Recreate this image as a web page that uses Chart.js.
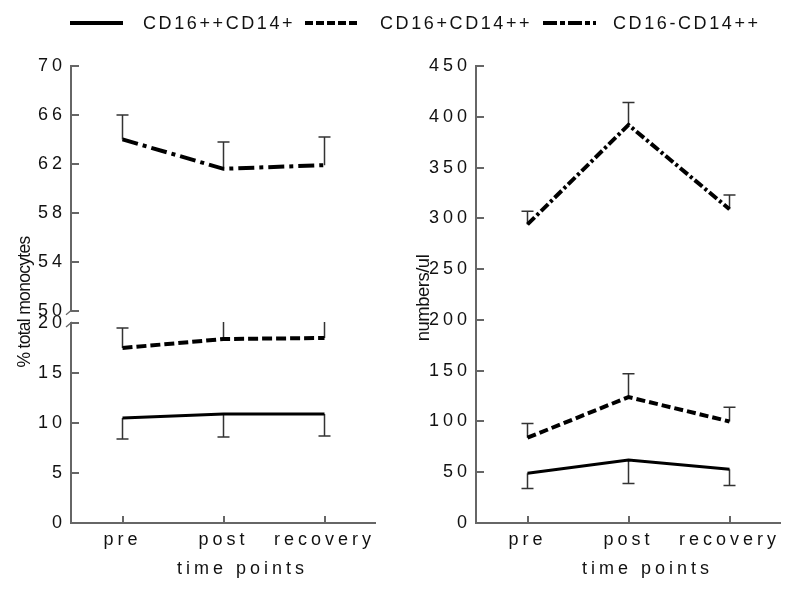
<!DOCTYPE html>
<html>
<head>
<meta charset="utf-8">
<script src="https://cdn.jsdelivr.net/npm/chart.js@4.4.1/dist/chart.umd.min.js"></script>
<style>
  body { margin: 0; background: #fff; width: 794px; height: 591px; overflow: hidden; position: relative;
         font-family: "Liberation Sans", Arial, sans-serif; }
  .panel { position: absolute; top: 0; width: 397px; height: 591px; }
  #left { left: 0; }
  #right { left: 397px; }
  #legend { position: absolute; left: 0; top: 0; width: 794px; height: 44px; }
  .item { position: absolute; top: 13px; font-size: 18px; line-height: 20px; letter-spacing: 2.6px; color: #111; white-space: nowrap; }
</style>
</head>
<body>
<div id="left" class="panel"><canvas id="leftChart"></canvas></div>
<div id="right" class="panel"><canvas id="rightChart"></canvas></div>
<div id="legend">
  <svg width="794" height="44" style="position:absolute;left:0;top:0">
    <line x1="70" y1="23" x2="123" y2="23" stroke="#000" stroke-width="4"/>
    <line x1="305" y1="23" x2="358" y2="23" stroke="#000" stroke-width="4" stroke-dasharray="8 3"/>
    <line x1="543" y1="23" x2="596" y2="23" stroke="#000" stroke-width="4" stroke-dasharray="14 3 5 3"/>
  </svg>
</div>
<script>
const timePoints = ['pre', 'post', 'recovery'];
const seriesNames = ['CD16++CD14+', 'CD16+CD14++', 'CD16-CD14++'];

// % of total monocytes (mean and SD)
const pctCD16pp = [10.5, 10.9, 10.9];
const pctCD16ppSD = [2.1, 2.3, 2.2];
const pctCD16p = [17.5, 18.4, 18.5];
const pctCD16pSD = [2.0, 2.4, 2.4];
const pctCD16n = [64.0, 61.6, 61.9];
const pctCD16nSD = [2.0, 2.2, 2.3];

// numbers/ul (mean and SD)
const numCD16pp = [49, 62, 53];
const numCD16ppSD = [15, 23, 16];
const numCD16p = [84, 124, 100];
const numCD16pSD = [14, 23, 14];
const numCD16n = [294, 392, 309];
const numCD16nSD = [13, 22, 14];

const pctTopTicks = [50, 54, 58, 62, 66, 70];
const pctLowTicks = [0, 5, 10, 15, 20];
const numTicks = [0, 50, 100, 150, 200, 250, 300, 350, 400, 450];

const axisColor = '#666';
const textColor = '#111';
const fontFamily = '"Liberation Sans", Arial, sans-serif';

Chart.defaults.font.family = fontFamily;
Chart.defaults.font.size = 18;
Chart.defaults.color = textColor;

// legend text
const legendX = [143, 380, 613];
seriesNames.forEach((name, i) => {
  const s = document.createElement('span');
  s.className = 'item';
  s.style.left = legendX[i] + 'px';
  s.textContent = name;
  document.getElementById('legend').appendChild(s);
});

function lineDataset(label, data, errors, dir, yAxisID, width, dash) {
  return {
    label: label, data: data, errors: errors, errorDir: dir, yAxisID: yAxisID,
    borderColor: '#000', borderWidth: width, borderDash: dash,
    pointRadius: 0, tension: 0, fill: false
  };
}

// error bars, drawn under the lines
const errorBars = {
  id: 'errorBars',
  beforeDatasetsDraw(chart) {
    const ctx = chart.ctx;
    chart.data.datasets.forEach((ds, i) => {
      const meta = chart.getDatasetMeta(i);
      const ys = chart.scales[meta.yAxisID];
      ctx.save();
      ctx.beginPath();
      ctx.rect(chart.chartArea.left, ys.top - 1, chart.chartArea.width, ys.bottom - ys.top + 2);
      ctx.clip();
      ctx.strokeStyle = '#333';
      ctx.lineWidth = 1.5;
      ctx.setLineDash([]);
      meta.data.forEach((pt, j) => {
        const y2 = ys.getPixelForValue(ds.data[j] + ds.errorDir * ds.errors[j]);
        ctx.beginPath();
        ctx.moveTo(pt.x, pt.y);
        ctx.lineTo(pt.x, y2);
        ctx.moveTo(pt.x - 6, y2);
        ctx.lineTo(pt.x + 6, y2);
        ctx.stroke();
      });
      ctx.restore();
    });
  }
};

// spaced tick text
const spacing = {
  id: 'spacing',
  beforeDraw(chart) { chart.ctx.letterSpacing = '4px'; }
};

// y axis lines, inward ticks, axis break and axis titles
const decor = {
  id: 'decor',
  afterDraw(chart, args, opts) {
    const ctx = chart.ctx;
    const area = chart.chartArea;
    ctx.save();
    ctx.strokeStyle = axisColor;
    ctx.lineWidth = 2;
    ctx.setLineDash([]);
    Object.values(chart.scales).forEach(sc => {
      if (sc.axis === 'y') {
        const vals = sc.ticks.map(t => t.value);
        const x = Math.round(sc.right) - 1;
        ctx.beginPath();
        ctx.moveTo(x, sc.getPixelForValue(Math.max(...vals)) - 1);
        ctx.lineTo(x, sc.getPixelForValue(Math.min(...vals)) + 1);
        ctx.stroke();
        vals.forEach(v => {
          const y = Math.round(sc.getPixelForValue(v));
          ctx.beginPath();
          ctx.moveTo(x, y);
          ctx.lineTo(x + 8, y);
          ctx.stroke();
        });
      } else {
        sc.ticks.forEach((t, i) => {
          const x = Math.round(sc.getPixelForValue(i));
          ctx.beginPath();
          ctx.moveTo(x, sc.top);
          ctx.lineTo(x, sc.top - 7);
          ctx.stroke();
        });
      }
    });

    if (chart.scales.yTop) {
      const x = Math.round(chart.scales.yTop.right) - 1;
      const yA = chart.scales.yTop.getPixelForValue(pctTopTicks[0]);
      const yB = chart.scales.yLow.getPixelForValue(pctLowTicks[pctLowTicks.length - 1]);
      ctx.lineWidth = 1.3;
      ctx.beginPath();
      ctx.moveTo(x - 5, yA + 4); ctx.lineTo(x + 1, yA - 1);
      ctx.moveTo(x - 5, yB + 4); ctx.lineTo(x + 1, yB - 1);
      ctx.stroke();
    }

    ctx.fillStyle = textColor;
    ctx.textBaseline = 'middle';
    ctx.textAlign = 'center';
    ctx.letterSpacing = '4px';
    ctx.font = '18px ' + fontFamily;
    ctx.fillText(opts.xTitle, (area.left + area.right) / 2 + opts.xTitleShift, opts.xTitleY);

    ctx.letterSpacing = opts.yTitleSpacing;
    ctx.font = opts.yTitleSize + 'px ' + fontFamily;
    ctx.translate(opts.yTitleX, opts.yTitleY);
    ctx.rotate(-Math.PI / 2);
    ctx.fillText(opts.yTitle, 0, 0);
    ctx.restore();
  }
};

function fixWidth(w) { return sc => { sc.width = w; }; }
function setTicks(list) { return sc => { sc.ticks = list.map(v => ({ value: v })); }; }

const xAxis = {
  type: 'category',
  offset: true,
  grid: { display: false, drawTicks: false },
  border: { display: true, color: axisColor, width: 2 },
  ticks: { padding: 6, color: textColor },
  afterFit: sc => { sc.height = 68; }
};

function yAxis(min, max, list, width, extra) {
  return Object.assign({
    type: 'linear',
    position: 'left',
    min: min, max: max,
    grid: { display: false, drawTicks: false },
    border: { display: false },
    ticks: { padding: 6, color: textColor },
    afterBuildTicks: setTicks(list),
    afterFit: fixWidth(width)
  }, extra || {});
}

new Chart(document.getElementById('leftChart'), {
  type: 'line',
  data: {
    labels: timePoints,
    datasets: [
      lineDataset(seriesNames[0], pctCD16pp, pctCD16ppSD, -1, 'yLow', 3, []),
      lineDataset(seriesNames[1], pctCD16p, pctCD16pSD, 1, 'yLow', 4, [10, 4]),
      lineDataset(seriesNames[2], pctCD16n, pctCD16nSD, 1, 'yTop', 4, [16, 5, 4, 5])
    ]
  },
  options: {
    responsive: true,
    maintainAspectRatio: false,
    animation: false,
    events: [],
    layout: { padding: { left: 0, top: 66, right: 22, bottom: 0 } },
    scales: {
      x: xAxis,
      yLow: yAxis(0, 20, pctLowTicks, 72, { stack: 'pct', stackWeight: 200 }),
      yTop: yAxis(49, 70, pctTopTicks, 72, { stack: 'pct', stackWeight: 257 })
    },
    plugins: {
      legend: { display: false },
      tooltip: { enabled: false },
      decor: { xTitle: 'time points', xTitleShift: 19, xTitleY: 569,
               yTitle: '% total monocytes', yTitleX: 25, yTitleY: 302, yTitleSize: 17.5, yTitleSpacing: '-0.7px' }
    }
  },
  plugins: [spacing, errorBars, decor]
});

new Chart(document.getElementById('rightChart'), {
  type: 'line',
  data: {
    labels: timePoints,
    datasets: [
      lineDataset(seriesNames[0], numCD16pp, numCD16ppSD, -1, 'y', 3, []),
      lineDataset(seriesNames[1], numCD16p, numCD16pSD, 1, 'y', 4, [9, 4]),
      lineDataset(seriesNames[2], numCD16n, numCD16nSD, 1, 'y', 4, [10, 3, 3, 3])
    ]
  },
  options: {
    responsive: true,
    maintainAspectRatio: false,
    animation: false,
    events: [],
    layout: { padding: { left: 0, top: 66, right: 14, bottom: 0 } },
    scales: {
      x: xAxis,
      y: yAxis(0, 450, numTicks, 80)
    },
    plugins: {
      legend: { display: false },
      tooltip: { enabled: false },
      decor: { xTitle: 'time points', xTitleShift: 19, xTitleY: 569,
               yTitle: 'numbers/ul', yTitleX: 27, yTitleY: 298, yTitleSize: 18.5, yTitleSpacing: '-0.5px' }
    }
  },
  plugins: [spacing, errorBars, decor]
});
</script>
</body>
</html>
